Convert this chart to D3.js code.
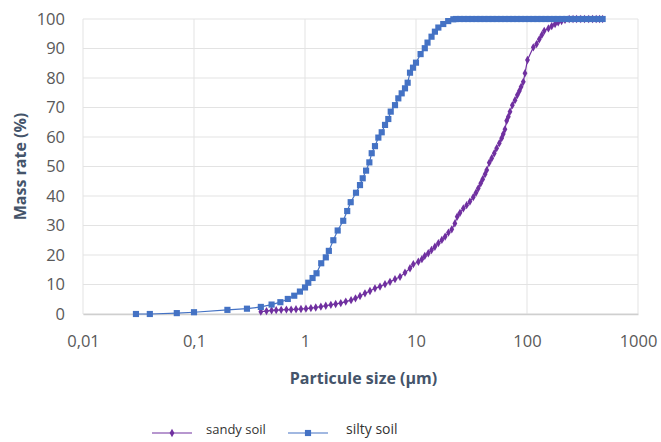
<!DOCTYPE html>
<html>
<head>
<meta charset="utf-8">
<script src="https://cdn.jsdelivr.net/npm/d3@7"></script>
<style>
  body { margin: 0; background: #fff; }
  text { font-family: "Open Sans", "Liberation Sans", sans-serif; }
</style>
</head>
<body>
<div id="chart"></div>
<script>
// particle size classes (µm) and cumulative mass rate (%)
var sandySize = [0.40, 0.45, 0.50, 0.55, 0.61, 0.68, 0.75, 0.83, 0.92, 1.02, 1.13, 1.25, 1.39, 1.54, 1.71, 1.89,
  2.1, 2.33, 2.6, 2.85, 3.13, 3.47, 3.85, 4.27, 4.74, 5.26, 5.83, 6.47, 7.18, 7.96, 8.83, 9.46, 10.5, 11.3,
  12.0, 12.9, 13.8, 14.8, 15.9, 17.1, 18.3, 19.6, 21.0, 22.4, 23.5, 24.9, 26.7, 28.6, 30.6, 32.8, 34.7, 36.4,
  38.3, 39.9, 41.9, 43.4, 45.7, 48.1, 50.7, 53.3, 56.3, 59.1, 61.1, 63.3, 65.6, 67.9, 70.3, 73.8, 78.0, 81.8,
  85.3, 88.5, 92.6, 95.9, 101, 114, 122, 129, 136, 143, 156, 167, 179, 191, 205, 220, 240, 260, 280, 305,
  330, 360, 390, 420, 450, 480];
var sandyRate = [0.8, 1.0, 1.2, 1.3, 1.4, 1.5, 1.5, 1.6, 1.7, 1.8, 2.0, 2.2, 2.5, 2.8, 3.1, 3.4,
  3.7, 4.2, 4.7, 5.3, 6.1, 7.0, 7.8, 8.7, 9.3, 10.1, 10.9, 11.8, 12.6, 14.0, 15.5, 16.9, 17.7, 18.6,
  19.7, 20.6, 21.7, 22.8, 24.0, 25.1, 26.2, 27.6, 28.7, 30.7, 33.0, 34.3, 35.8, 36.9, 38.1, 39.6, 41.1, 42.6,
  44.3, 45.7, 47.4, 48.8, 51.3, 52.8, 54.5, 56.2, 57.9, 59.6, 61.0, 62.6, 65.5, 66.9, 68.6, 70.8, 72.5, 74.2,
  75.6, 77.0, 78.7, 81.6, 86.1, 90.4, 91.5, 93.1, 94.6, 96.0, 96.8, 97.6, 98.3, 98.9, 99.3, 99.7, 100, 100, 100, 100,
  100, 100, 100, 100, 100, 100];

var siltySize = [0.03, 0.04, 0.07, 0.1, 0.2, 0.3, 0.4, 0.5, 0.6, 0.7, 0.8, 0.9, 1.0, 1.07, 1.17, 1.27, 1.40,
  1.54, 1.64, 1.80, 1.97, 2.21, 2.40, 2.58, 2.88, 3.13, 3.31, 3.55, 3.80, 3.99, 4.27, 4.58, 4.91, 5.26, 5.63,
  5.92, 6.47, 6.93, 7.43, 7.96, 8.41, 8.83, 9.4, 10.0, 11.0, 12.0, 12.7, 13.8, 14.8, 15.9, 17.6, 19.5, 21.7,
  22.9, 24.9, 27.1, 29.5, 32.1, 35, 38, 41.4, 45, 49, 53.3, 58, 63.1, 68.7, 74.7, 81.3, 88.5, 96.3, 104.8,
  114, 124, 135, 147, 160, 174, 189, 206, 224, 244, 265, 289, 314, 342, 372, 405, 440, 480];
var siltyRate = [0, 0, 0.3, 0.6, 1.4, 1.8, 2.4, 3.2, 4.0, 5.1, 6.2, 7.6, 9.0, 10.6, 12.2, 13.8, 17.2,
  19.2, 21.4, 25.0, 28.3, 31.6, 34.9, 37.9, 41.1, 43.7, 46.0, 48.6, 51.4, 54.5, 56.9, 59.8, 61.6, 64.1, 66.1,
  68.6, 70.8, 73.1, 74.8, 76.5, 78.4, 81.8, 83.5, 85.2, 88.1, 90.1, 92.0, 94.0, 95.7, 97.1, 98.3, 99.3, 99.9,
  100, 100, 100, 100, 100, 100, 100, 100, 100, 100, 100, 100, 100, 100, 100, 100, 100, 100, 100,
  100, 100, 100, 100, 100, 100, 100, 100, 100, 100, 100, 100, 100, 100, 100, 100, 100, 100];

var xTicks = [0.01, 0.1, 1, 10, 100, 1000];
var xTickLabels = ["0,01", "0,1", "1", "10", "100", "1000"];
var yTicks = [0, 10, 20, 30, 40, 50, 60, 70, 80, 90, 100];

var margin = {top: 19, right: 23, bottom: 128, left: 83},
    width = 661 - margin.left - margin.right,
    height = 442 - margin.top - margin.bottom;

var svg = d3.select("#chart")
  .append("svg")
    .attr("width", 661)
    .attr("height", 442)
  .append("g")
    .attr("transform", "translate(" + margin.left + "," + margin.top + ")");

var x = d3.scaleLog()
  .domain([0.01, 1000])
  .range([0, width]);

var y = d3.scaleLinear()
  .domain([0, 100])
  .range([height, 0]);

// gridlines
svg.append("g")
  .selectAll("line")
  .data(yTicks)
  .enter()
  .append("line")
    .attr("x1", 0).attr("x2", width)
    .attr("y1", function(d) { return y(d) }).attr("y2", function(d) { return y(d) })
    .attr("stroke", "#e3e3e3");
svg.append("g")
  .selectAll("line")
  .data(xTicks)
  .enter()
  .append("line")
    .attr("x1", function(d) { return x(d) }).attr("x2", function(d) { return x(d) })
    .attr("y1", 0).attr("y2", height)
    .attr("stroke", "#e3e3e3");

// X axis
var xAxis = svg.append("g")
  .attr("transform", "translate(0," + height + ")")
  .call(d3.axisBottom(x).tickValues(xTicks).tickSize(0).tickPadding(21)
    .tickFormat(function(d, i) { return xTickLabels[i] }));
xAxis.select(".domain").attr("stroke", "#cfcfcf").attr("stroke-width", 1.5);
xAxis.selectAll(".tick text")
  .style("font-size", "16.5px")
  .style("fill", "#595959");

// Y axis
var yAxis = svg.append("g")
  .call(d3.axisLeft(y).tickValues(yTicks).tickSize(0).tickPadding(18));
yAxis.select(".domain").remove();
yAxis.selectAll(".tick text")
  .style("font-size", "16.5px")
  .style("fill", "#595959");

// axis labels
svg.append("text")
  .attr("text-anchor", "middle")
  .attr("x", width / 2 + 3)
  .attr("y", height + 70)
  .style("font-size", "16px")
  .style("font-weight", "bold")
  .style("fill", "#44546a")
  .text("Particule size (µm)");

svg.append("text")
  .attr("text-anchor", "middle")
  .attr("transform", "rotate(-90)")
  .attr("x", -y(50))
  .attr("y", -margin.left + 26)
  .style("font-size", "16px")
  .style("font-weight", "bold")
  .style("fill", "#44546a")
  .text("Mass rate (%)");

var series = [
  {name: "sandy soil", color: "#7030a0", shape: d3.symbolDiamond, size: 20,
   values: sandySize.map(function(s, i) { return {size: s, rate: sandyRate[i]} })},
  {name: "silty soil", color: "#4472c4", shape: d3.symbolSquare, size: 38,
   values: siltySize.map(function(s, i) { return {size: s, rate: siltyRate[i]} })}
];

var line = d3.line()
  .x(function(d) { return x(d.size) })
  .y(function(d) { return y(d.rate) });

var groups = svg.selectAll("mySeries")
  .data(series)
  .enter()
  .append("g");

groups.append("path")
  .attr("d", function(d) { return line(d.values) })
  .attr("fill", "none")
  .attr("stroke", function(d) { return d.color })
  .attr("stroke-width", 1.2);

groups.each(function(s) {
  d3.select(this).selectAll("path.pt")
    .data(s.values)
    .enter()
    .append("path")
      .attr("class", "pt")
      .attr("d", d3.symbol().type(s.shape).size(s.size))
      .attr("transform", function(d) { return "translate(" + x(d.size) + "," + y(d.rate) + ")" })
      .attr("fill", s.color);
});

// legend
var legendPos = [{lx: 152, tx: 206, fs: 13}, {lx: 288, tx: 346, fs: 14}];
var legend = d3.select("svg").selectAll("myLegend")
  .data(series)
  .enter()
  .append("g")
    .attr("transform", function(d, i) { return "translate(" + legendPos[i].lx + ",433)" });

legend.append("line")
  .attr("x1", 0).attr("x2", 40)
  .attr("stroke", function(d) { return d.color })
  .attr("stroke-width", 1.2);
legend.append("path")
  .attr("d", function(d) { return d3.symbol().type(d.shape).size(d.size)() })
  .attr("transform", "translate(20,0)")
  .attr("fill", function(d) { return d.color });
legend.append("text")
  .attr("x", function(d, i) { return legendPos[i].tx - legendPos[i].lx })
  .attr("y", 0)
  .attr("dy", "0.1em")
  .style("font-size", function(d, i) { return legendPos[i].fs + "px" })
  .style("fill", "#333")
  .text(function(d) { return d.name });
</script>
</body>
</html>
